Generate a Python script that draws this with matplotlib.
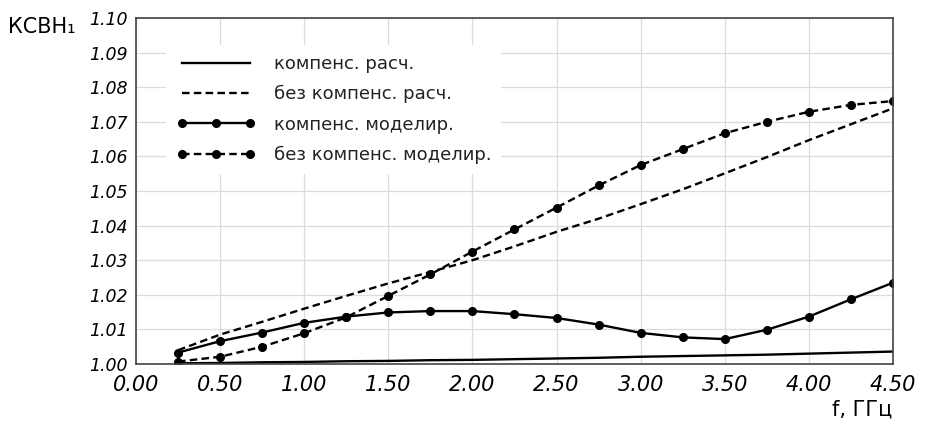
import matplotlib
matplotlib.use("Agg")
import matplotlib.pyplot as plt
import numpy as np

# Frequencies (GHz)
freq = [0.25, 0.50, 0.75, 1.00, 1.25, 1.50, 1.75, 2.00, 2.25, 2.50, 2.75,
        3.00, 3.25, 3.50, 3.75, 4.00, 4.25, 4.50]

comp_calc = [1.0002, 1.0003, 1.0005, 1.0006, 1.0008, 1.0009, 1.0011, 1.0012,
             1.0014, 1.0016, 1.0018, 1.0021, 1.0023, 1.0025, 1.0027, 1.0030,
             1.0033, 1.0036]
nocomp_calc = [1.0040, 1.0085, 1.0122, 1.0160, 1.0197, 1.0233, 1.0266, 1.0300,
               1.0340, 1.0382, 1.0420, 1.0462, 1.0505, 1.0551, 1.0598, 1.0647,
               1.0693, 1.0739]
comp_model = [1.0033, 1.0066, 1.0091, 1.0119, 1.0137, 1.0149, 1.0153, 1.0153,
              1.0144, 1.0133, 1.0114, 1.0090, 1.0077, 1.0072, 1.0099, 1.0137,
              1.0187, 1.0235]
nocomp_model = [1.0007, 1.0021, 1.0050, 1.0089, 1.0135, 1.0197, 1.0259, 1.0325,
                1.0389, 1.0452, 1.0516, 1.0575, 1.0621, 1.0667, 1.0700, 1.0729,
                1.0749, 1.0760]

labels = ["компенс. расч.", "без компенс. расч.",
          "компенс. моделир.", "без компенс. моделир."]

xticks = [0.0, 0.5, 1.0, 1.5, 2.0, 2.5, 3.0, 3.5, 4.0, 4.5]
yticks = [1.00, 1.01, 1.02, 1.03, 1.04, 1.05, 1.06, 1.07, 1.08, 1.09, 1.10]

plt.rcParams['font.family'] = ['DejaVu Sans']

fig = plt.figure(figsize=(9.27, 4.25), dpi=100)
ax = fig.add_axes([0.1467, 0.1435, 0.8166, 0.8141])

dash = (0, (3.2, 1.8))
lw = 1.7
ax.plot(freq, comp_calc, color='black', lw=lw, label=labels[0])
ax.plot(freq, nocomp_calc, color='black', lw=lw, linestyle=dash, label=labels[1])
ax.plot(freq, comp_model, color='black', lw=lw, marker='o', ms=5.5, label=labels[2])
ax.plot(freq, nocomp_model, color='black', lw=lw, linestyle=dash, marker='o', ms=5.5,
        label=labels[3])

ax.set_xlim(0, 4.5)
ax.set_ylim(1.00, 1.10)
ax.set_xticks(xticks)
ax.set_yticks(yticks)
ax.set_xticklabels([f"{v:.2f}" for v in xticks], fontsize=15, style='italic')
ax.set_yticklabels([f"{v:.2f}" for v in yticks], fontsize=12.5, style='italic')
ax.tick_params(length=0, pad=6)
ax.tick_params(axis='x', pad=8)
ax.grid(True, color='#dcdcdc', lw=0.9)
ax.set_axisbelow(True)
for s in ax.spines.values():
    s.set_color('#444444')
    s.set_linewidth(1.2)

leg = ax.legend(loc='upper left', bbox_to_anchor=(0.04, 0.922), numpoints=3,
                handlelength=4.4, fontsize=13, frameon=True, fancybox=False,
                framealpha=1, edgecolor='none', facecolor='white',
                labelspacing=0.68, borderpad=0.55, handletextpad=1.0,
                borderaxespad=0)
for t in leg.get_texts():
    t.set_color('#222222')

fig.text(8 / 927, 1 - 27 / 425, "КСВН₁", fontsize=15, va='center', ha='left')
fig.text(892 / 927, 1 - 410 / 425, "f, ГГц", fontsize=15, va='center', ha='right')

fig.savefig("out.png", dpi=100)
